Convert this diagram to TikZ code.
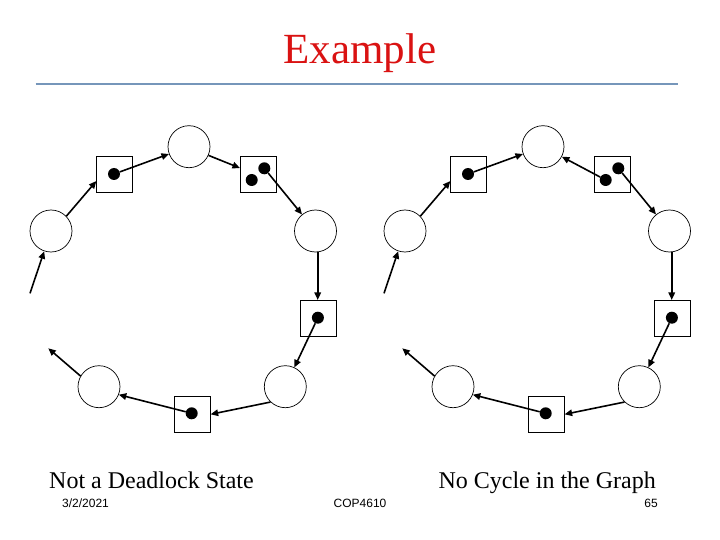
\documentclass[tikz,border=0pt]{standalone}
\usepackage{fontspec}
\setmainfont{Liberation Serif}
\newfontfamily\footfont{Liberation Sans}
\usetikzlibrary{arrows.meta}
\definecolor{titlered}{RGB}{218,18,18}
\definecolor{rulecol}{RGB}{118,150,186}
\tikzset{
  proc/.style={circle,draw,line width=0.7pt,minimum size=42pt,inner sep=0pt},
  res/.style={rectangle,draw,line width=0.7pt,minimum size=36pt,inner sep=0pt},
  inst/.style={circle,fill=black,minimum size=12pt,inner sep=0pt},
  arr/.style={line width=1.6pt,-{Triangle[length=7.5pt,width=6.5pt]}},
}
\newcommand{\ringnodes}{%
  \node[proc] (tc) at (189,146.7) {};
  \node[res] (s1) at (114.7,174) {};
  \node[inst] (d1) at (114,174) {};
  \node[res] (s2) at (258.3,174) {};
  \node[inst] (d2a) at (264.3,168.3) {};
  \node[inst] (d2b) at (251.7,180) {};
  \node[proc] (rc) at (315.5,231) {};
  \node[res] (sr) at (318.6,318.3) {};
  \node[inst] (d3) at (317.9,317.7) {};
  \node[proc] (brc) at (285.3,386.7) {};
  \node[res] (sb) at (192.3,414.3) {};
  \node[inst] (d4) at (191.7,413.3) {};
  \node[proc] (blc) at (99,386.7) {};
  \node[proc] (lc) at (51,231) {};
  \coordinate (f1) at (30,293.3);
  \coordinate (f2) at (48.3,348.3);
  \draw[arr] (lc.44) -- (s1.201);
  \draw[arr] (d1) -- (tc);
  \draw[arr] (d2a) -- (rc);
  \draw[arr] (rc.-84) -- (rc.-84 |- sr.north);
  \draw[arr] (d3) -- (brc);
  \draw[arr] (brc.226) -- (sb.east);
  \draw[arr] (d4) -- (blc.-22);
  \draw[arr] (f1) -- (lc);
  \draw[arr] (blc.150) -- (f2);
}
\begin{document}
\begin{tikzpicture}[x=1pt,y=-1pt]
\useasboundingbox (0,0) rectangle (720,540);
\fill[white] (0,0) rectangle (720,540);
\node[anchor=base,text=titlered,font=\fontsize{43}{47}\selectfont,inner sep=0pt] (title) at (360,64) {Example};
\coordinate (ruleL) at (35.7,84);
\coordinate (ruleR) at (677.5,84);
\draw[rulecol,line width=2.2pt] (ruleL) -- (ruleR);
% left graph
\begin{scope}[name prefix=L-]
\ringnodes
\draw[arr] (tc.-24) -- (s2.162);
\end{scope}
% right graph
\begin{scope}[xshift=354pt,name prefix=R-]
\ringnodes
\draw[arr] (d2b) -- (tc);
\end{scope}
\node[anchor=base west,font=\fontsize{24}{28}\selectfont,inner sep=0pt] (capL) at (49,488) {Not a Deadlock State};
\node[anchor=base east,font=\fontsize{24}{28}\selectfont,inner sep=0pt] (capR) at (656,488) {No Cycle in the Graph};
\node[anchor=base west,font=\footfont\fontsize{12}{14}\selectfont,inner sep=0pt] (date) at (62,507.7) {3/2/2021};
\node[anchor=base,font=\footfont\fontsize{12}{14}\selectfont,inner sep=0pt] (course) at (360,507.7) {COP4610};
\node[anchor=base east,font=\footfont\fontsize{12}{14}\selectfont,inner sep=0pt] (page) at (658,507.7) {65};
\end{tikzpicture}
\end{document}
